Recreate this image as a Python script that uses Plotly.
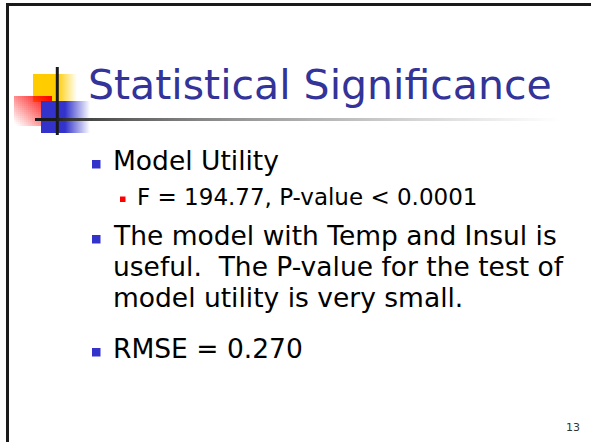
import plotly.graph_objects as go

W, H = 591, 442

# ---- slide content ----
title_text = "Statistical Significance"
line_texts = [
    "Model Utility",
    "F = 194.77, P-value < 0.0001",
    "The model with Temp and Insul is",
    "useful.\u00a0 The P-value for the test of",
    "model utility is very small.",
    "RMSE = 0.270",
]
line_levels = [1, 2, 1, 0, 0, 1]   # 1 = main bullet, 2 = sub bullet, 0 = continuation
page_number = "13"

# ---- layout constants ----
FONT = "DejaVu Sans"
TITLE_COLOR = "#333399"
BULLET1_COLOR = "#3333CC"
BULLET2_COLOR = "#FF0000"
baselines = [170, 205, 245, 276, 307, 358]
size_main, size_sub, size_title = 26.5, 23, 41

shapes = []
annotations = []


def rect(x0, y0, x1, y1, color):
    shapes.append(dict(type="rect", xref="x", yref="y", x0=x0, y0=y0, x1=x1, y1=y1,
                       fillcolor=color, line=dict(width=0), layer="above"))


def line(x0, y0, x1, y1, color, width):
    shapes.append(dict(type="line", xref="x", yref="y", x0=x0, y0=y0, x1=x1, y1=y1,
                       line=dict(color=color, width=width), layer="above"))


# frame (left & top)
line(6, 4.5, W, 4.5, "#1a1a1a", 3)
line(7.5, 3, 7.5, H, "#1a1a1a", 3)

# logo: yellow square with right fade
rect(33, 74, 57, 102, "rgb(255,204,0)")
for i in range(20):
    a = 1 - (i + 0.5) / 20
    rect(57 + i, 74, 58 + i, 102, f"rgba(255,204,0,{a:.3f})")

# red square: diagonal gradient (strong at top-right)
step = 2
for ix in range(19):
    for iy in range(15):
        u = 1 - (ix + 0.5) / 19      # distance from right
        v = (iy + 0.5) / 15          # distance from top
        a = min(1.0, max(0.0, 1.05 - 0.6 * u - 0.5 * v))
        rect(14 + ix * step, 96 + iy * step, 14 + (ix + 1) * step, 96 + (iy + 1) * step,
             f"rgba(255,0,0,{a:.3f})")

# blue square with right fade
rect(41, 101, 65, 133, "rgb(51,51,204)")
for i in range(25):
    a = 1 - (i + 0.5) / 25
    rect(65 + i, 101, 66 + i, 133, f"rgba(51,51,204,{a:.3f})")

# vertical cross line
line(57.3, 67, 57.3, 135, "#1a1a1a", 3)

# horizontal gradient line
rect(35, 118, 57, 121, "#1a1a1a")
x = 57
while x < 560:
    t = (x + 1.5 - 57) / 503
    b = int(round(255 * min(1.0, 0.1 + 0.9 * t ** 0.6)))
    rect(x, 118, x + 3, 121, f"rgb({b},{b},{b})")
    x += 3

# title
annotations.append(dict(x=86, y=99 - 0.35 * size_title, xref="x", yref="y", text=title_text,
                        showarrow=False, xanchor="left", yanchor="middle",
                        font=dict(family=FONT, size=size_title, color=TITLE_COLOR)))

# body lines
for txt, lvl, base in zip(line_texts, line_levels, baselines):
    fs = size_sub if lvl == 2 else size_main
    tx = 135 if lvl == 2 else 111
    annotations.append(dict(x=tx, y=base - 0.35 * fs, xref="x", yref="y", text=txt,
                            showarrow=False, xanchor="left", yanchor="middle",
                            font=dict(family=FONT, size=fs, color="#000000")))
    if lvl == 1:
        rect(92, base - 10, 100.5, base - 1.5, BULLET1_COLOR)
    elif lvl == 2:
        rect(120, base - 8.5, 125.5, base - 3, BULLET2_COLOR)

# page number
annotations.append(dict(x=573, y=427, xref="x", yref="y", text=page_number, showarrow=False,
                        xanchor="center", yanchor="middle",
                        font=dict(family=FONT, size=11, color="#333333")))

fig = go.Figure()
fig.update_layout(
    width=W, height=H, autosize=False,
    margin=dict(l=0, r=0, t=0, b=0, pad=0),
    paper_bgcolor="white", plot_bgcolor="white",
    xaxis=dict(range=[0, W], visible=False, fixedrange=True),
    yaxis=dict(range=[H, 0], visible=False, fixedrange=True),
    showlegend=False,
    shapes=shapes,
    annotations=annotations,
)
fig.write_html("out.html", config={"displayModeBar": False},
               post_script="document.body.style.margin='0';")
